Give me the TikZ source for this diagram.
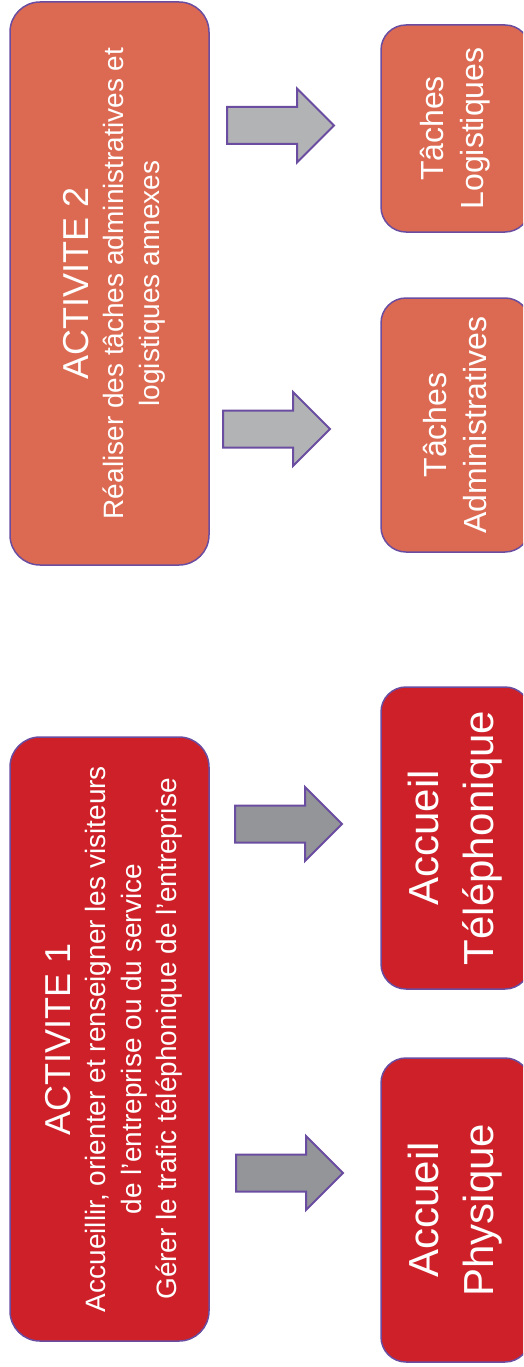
\documentclass[tikz,border=0pt]{standalone}
\usepackage{fontspec}
\setmainfont{Liberation Sans}
\definecolor{actA}{HTML}{DC6A52}
\definecolor{actB}{HTML}{CD2028}
\definecolor{edge}{HTML}{6A4DA0}
\definecolor{arrlight}{HTML}{B2B3B4}
\definecolor{arrdark}{HTML}{939598}
\tikzset{
  bigbox/.style={draw=edge, line width=1.5pt, rounded corners=30pt, rotate=90,
    inner sep=0pt, minimum height=199pt},
  bigtext/.style={rotate=90, text=white, align=center, inner sep=0pt,
    font=\fontsize{28}{35.5}\selectfont},
  smallbox/.style={draw=edge, line width=1.5pt, rounded corners=25pt, rotate=90,
    text=white, align=center, inner sep=0pt, minimum height=149pt},
  blockarr/.style={draw=edge, line width=2pt, line join=miter},
}
% #1 name, #2 left x, #3 centre y, #4 fill
\newcommand\blockarrow[4]{%
  \coordinate (#1) at (#2,#3);
  \draw[blockarr, fill=#4] ([shift={(0,-18.5)}]#1) -- ++(70,0) -- ++(0,-18.5)
    -- ++(37,37) -- ++(-37,37) -- ++(0,-18.5) -- ++(-70,0) -- cycle;}
\begin{document}
\begin{tikzpicture}[x=1pt,y=-1pt]
\useasboundingbox (0,0) rectangle (523,1367);
\begin{scope}
\clip (0,0) rectangle (523,1367);
% activity 2
\node[bigbox, fill=actA, minimum width=563pt] (a2) at (109.5,283.5) {};
\node[bigtext] (a2t) at (114,283.5)
  {{\fontsize{36}{40}\selectfont ACTIVITE 2}\\
   Réaliser des tâches administratives et\\ logistiques annexes};
\node[smallbox, fill=actA, minimum width=207pt, font=\fontsize{32}{40}\selectfont] (tl) at (455.5,128.5)
  {Tâches\\ Logistiques};
\node[smallbox, fill=actA, minimum width=254pt, font=\fontsize{32}{40}\selectfont] (ta) at (455.5,425)
  {Tâches\\ Administratives};
% activity 1
\node[bigbox, fill=actB, minimum width=604pt] (a1) at (109.5,1039) {};
\node[bigtext] (a1t) at (114,1039)
  {{\fontsize{36}{40}\selectfont ACTIVITE 1}\\
   Accueillir, orienter et renseigner les visiteurs\\
   de l’entreprise ou du service\\
   Gérer le trafic téléphonique de l’entreprise};
\node[smallbox, fill=actB, minimum width=302pt, font=\fontsize{42}{55}\selectfont] (at) at (455.5,838)
  {Accueil\\ Téléphonique};
\node[smallbox, fill=actB, minimum width=304pt, font=\fontsize{42}{55}\selectfont] (ap) at (455.5,1210)
  {Accueil\\ Physique};
\end{scope}
% arrows
\blockarrow{r1}{227}{125.5}{arrlight}
\blockarrow{r2}{223}{429}{arrlight}
\blockarrow{r3}{235}{824}{arrdark}
\blockarrow{r4}{236}{1173}{arrdark}
\end{tikzpicture}
\end{document}
